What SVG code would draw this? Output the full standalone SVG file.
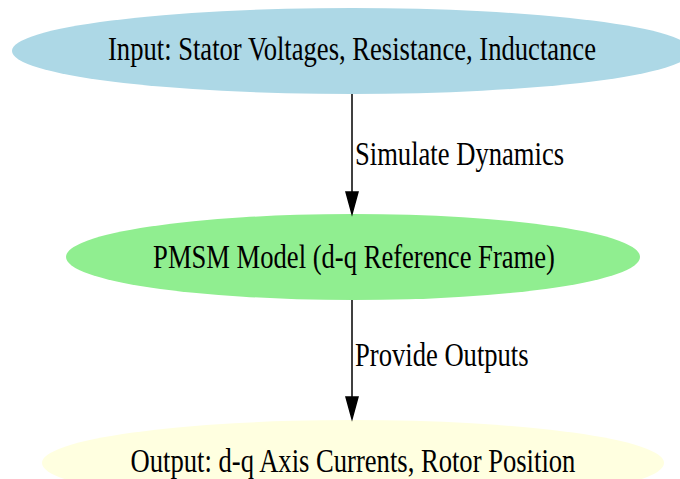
<svg xmlns="http://www.w3.org/2000/svg" width="680" height="479" viewBox="0 0 680 479">
  <defs>
    <style>
      .label { font-family: "Liberation Serif", "Times New Roman", serif; font-size: 26.6px; fill: #000; }
      .node-text { text-anchor: middle; }
      .edge { stroke: #000; stroke-width: 1.5; fill: none; }
      .head { fill: #000; stroke: #000; stroke-width: 1.5; }
    </style>
  </defs>
  <rect width="680" height="479" fill="#fff"/>

  <g id="input">
    <ellipse cx="352" cy="51" rx="340" ry="43" fill="#ADD8E6"/>
    <text class="label node-text" transform="translate(352,60) scale(1,1.28)">Input: Stator Voltages, Resistance, Inductance</text>
  </g>

  <g id="model">
    <ellipse cx="353" cy="257" rx="287" ry="43" fill="#90EE90"/>
    <text class="label node-text" transform="translate(354,268) scale(1,1.28)">PMSM Model (d-q Reference Frame)</text>
  </g>

  <g id="output">
    <ellipse cx="353" cy="463" rx="311" ry="43" fill="#FFFFE0"/>
    <text class="label node-text" transform="translate(353,472) scale(1,1.28)">Output: d-q Axis Currents, Rotor Position</text>
  </g>

  <g id="connectors">
    <line class="edge" x1="352" y1="94" x2="352" y2="192"/>
    <polygon class="head" points="346,192 358,192 352,214"/>
    <text class="label" transform="translate(355,165) scale(1,1.28)">Simulate Dynamics</text>
    <line class="edge" x1="352" y1="300" x2="352" y2="397"/>
    <polygon class="head" points="346,397 358,397 352,419"/>
    <text class="label" transform="translate(355,366) scale(1,1.28)">Provide Outputs</text>
  </g>
</svg>
